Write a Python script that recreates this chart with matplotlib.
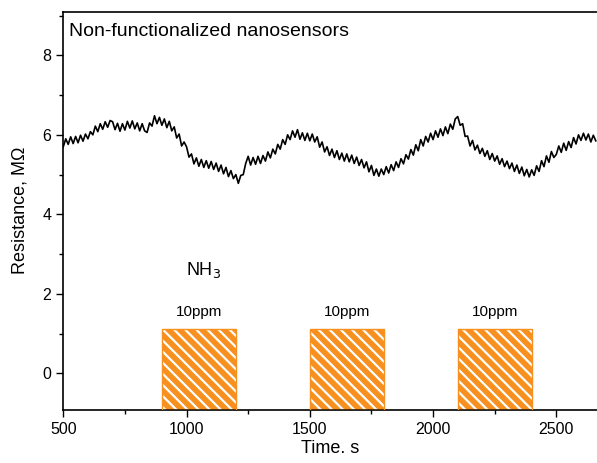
import matplotlib

matplotlib.use("Agg")

import matplotlib.pyplot as plt
import numpy as np
from matplotlib.ticker import MultipleLocator

plt.rcParams["font.family"] = ["Liberation Sans", "DejaVu Sans"]
plt.rcParams["hatch.linewidth"] = 1.6

# resistance trace, one reading every 10 s from 500 s
TIME_START = 500
TIME_STEP = 10
resistance = [
    5.70, 5.90, 5.76, 5.95, 5.78, 5.96, 5.80, 5.99, 5.84, 6.02,
    5.90, 6.08, 6.00, 6.22, 6.08, 6.28, 6.14, 6.33, 6.19, 6.36,
    6.33, 6.13, 6.29, 6.09, 6.28, 6.12, 6.34, 6.17, 6.35, 6.15,
    6.30, 6.10, 6.28, 6.10, 6.06, 6.30, 6.22, 6.48, 6.28, 6.44,
    6.24, 6.40, 6.18, 6.34, 6.10, 6.20, 5.92, 6.02, 5.72, 5.82,
    5.70, 5.44, 5.52, 5.27, 5.42, 5.21, 5.38, 5.18, 5.35, 5.16,
    5.33, 5.13, 5.29, 5.08, 5.24, 5.02, 5.18, 4.95, 5.10, 4.90,
    5.00, 4.78, 4.98, 5.00, 5.28, 5.46, 5.24, 5.43, 5.26, 5.46,
    5.28, 5.48, 5.34, 5.57, 5.42, 5.64, 5.52, 5.76, 5.64, 5.88,
    5.76, 6.00, 5.88, 6.10, 5.94, 6.13, 5.89, 6.05, 5.86, 6.04,
    5.85, 6.02, 5.82, 5.95, 5.69, 5.82, 5.57, 5.70, 5.48, 5.64,
    5.43, 5.60, 5.38, 5.54, 5.34, 5.52, 5.32, 5.49, 5.28, 5.44,
    5.23, 5.38, 5.17, 5.32, 5.07, 5.23, 4.98, 5.14, 4.96, 5.14,
    5.00, 5.20, 5.04, 5.25, 5.10, 5.32, 5.18, 5.40, 5.27, 5.50,
    5.39, 5.63, 5.49, 5.75, 5.60, 5.88, 5.72, 5.96, 5.82, 6.04,
    5.88, 6.10, 5.94, 6.15, 5.98, 6.20, 6.03, 6.27, 6.14, 6.40,
    6.46, 6.24, 6.28, 5.96, 5.97, 5.72, 5.86, 5.62, 5.74, 5.53,
    5.66, 5.46, 5.60, 5.38, 5.53, 5.34, 5.47, 5.26, 5.40, 5.20,
    5.34, 5.15, 5.29, 5.08, 5.24, 5.03, 5.19, 4.97, 5.13, 4.94,
    5.12, 4.98, 5.22, 5.08, 5.35, 5.20, 5.47, 5.31, 5.58, 5.43,
    5.51, 5.72, 5.56, 5.79, 5.61, 5.83, 5.68, 5.93, 5.77, 6.00,
    5.86, 6.04, 5.87, 6.02, 5.82, 5.99, 5.85,
]

# NH3 exposure windows (s) and label
pulse_start = [900, 1500, 2100]
pulse_end = [1200, 1800, 2400]
pulse_labels = ["10ppm", "10ppm", "10ppm"]
pulse_level = 1.11

X_MIN, X_MAX = 500, 2665
Y_MIN, Y_MAX = -0.92, 9.1
ORANGE = "#F7901E"

time = TIME_START + TIME_STEP * np.arange(len(resistance))

fig = plt.figure(figsize=(5.97, 4.63), dpi=100)
ax = fig.add_axes([0.106, 0.1145, 0.894, 0.8605])

ax.plot(time, resistance, color="black", linewidth=1.2)

for start, end, label in zip(pulse_start, pulse_end, pulse_labels):
    width = end - start
    ax.bar(start, pulse_level - Y_MIN, width=width, bottom=Y_MIN, align="edge",
           facecolor=ORANGE, edgecolor="white", hatch="\\\\\\", linewidth=0, zorder=2)
    ax.bar(start, pulse_level - Y_MIN, width=width, bottom=Y_MIN, align="edge",
           fill=False, edgecolor=ORANGE, linewidth=1.0, zorder=3)
    ax.text(start + width / 2, 1.55, label, ha="center", va="center", fontsize=11)

ax.text(1068, 2.6, "NH$_3$", ha="center", va="center", fontsize=13)
ax.text(0.011, 0.972, "Non-functionalized nanosensors", transform=ax.transAxes,
        ha="left", va="top", fontsize=14)

ax.set_xlim(X_MIN, X_MAX)
ax.set_ylim(Y_MIN, Y_MAX)
ax.xaxis.set_major_locator(MultipleLocator(500))
ax.xaxis.set_minor_locator(MultipleLocator(250))
ax.yaxis.set_major_locator(MultipleLocator(2))
ax.yaxis.set_minor_locator(MultipleLocator(1))
ax.tick_params(which="both", direction="out", width=1.0, labelsize=11.5)
ax.tick_params(which="major", length=5)
ax.tick_params(which="minor", length=3)
ax.tick_params(axis="y", which="both", left=True, right=False)
ax.tick_params(axis="x", which="both", bottom=True, top=False)

ax.spines["right"].set_visible(False)
for side in ("left", "bottom", "top"):
    ax.spines[side].set_linewidth(1.2)

ax.set_xlabel("Time. s", fontsize=13, labelpad=2)
ax.set_ylabel("Resistance, MΩ", fontsize=13, labelpad=10)

fig.savefig("out.png", dpi=100)
plt.close(fig)
